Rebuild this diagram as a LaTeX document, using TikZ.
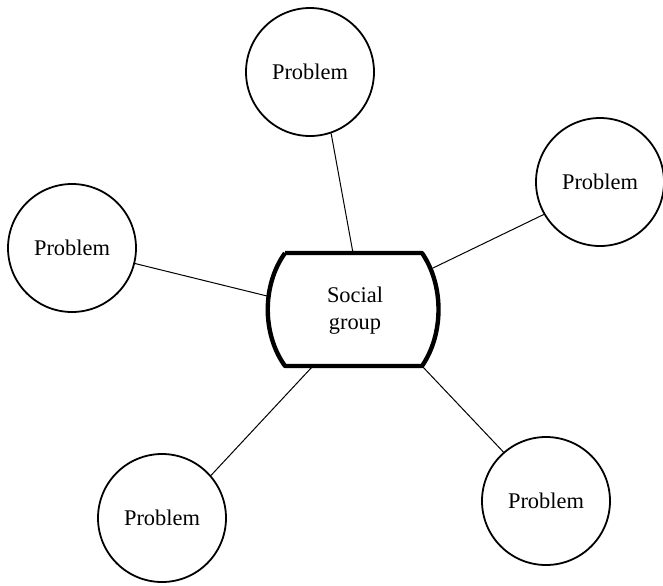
\documentclass[tikz,border=0pt]{standalone}
\usepackage{fontspec}
\setmainfont{Liberation Serif}
\usepackage{tikz}
\usetikzlibrary{positioning}
\tikzset{
 p/.style
  = {circle, draw, line width=0.9pt, minimum size=64pt, inner sep=0pt,
     font=\fontsize{11.2}{13}\selectfont},
 g/.style
  = {align=center, inner sep=0pt, font=\fontsize{11.2}{13}\selectfont},
 barrel/.style
  = {draw, line width=2.2pt, line join=round},
 l/.style
  = {draw, line width=0.5pt}
}
\begin{document}
\begin{tikzpicture}[x=0.5pt, y=-0.5pt]
    \useasboundingbox (0,0) rectangle (663,585);
    \node [p] (upper) at (310,72) {Problem};
    \node [p] (right) at (600,182) {Problem};
    \node [p] (left) at (72,248) {Problem};
    \node [p] (lowleft) at (162,518) {Problem};
    \node [p] (lowright) at (546,501) {Problem};
    \node [g] (group) at (355,311) {Social\\[0.5pt]group};

    % the group outline
    \path [barrel] (285,253) -- (422,253) .. controls (444,285) and (444,334) .. (422,366)
        -- (285,366) .. controls (262,334) and (262,285) .. (285,253);

    \coordinate (gtop) at (353,253);
    \coordinate (gright) at (433,268);
    \coordinate (gleft) at (267,296);
    \coordinate (glowleft) at (312,367);
    \coordinate (glowright) at (422,366);

    \path [l] (upper.-71) -- (gtop);
    \path [l] (right.210) -- (gright);
    \path [l] (left) -- (gleft);
    \path [l] (lowleft.41) -- (glowleft);
    \path [l] (lowright.131) -- (glowright);
\end{tikzpicture}
\end{document}
